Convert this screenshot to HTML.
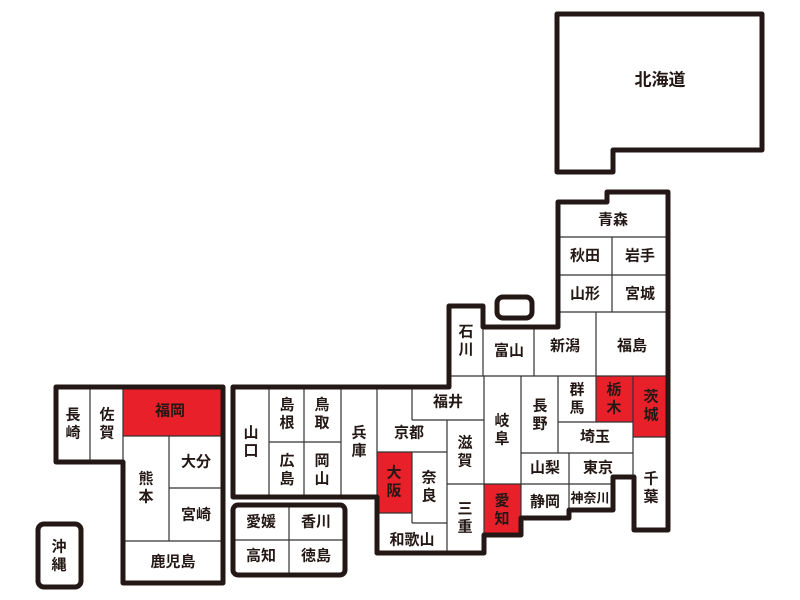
<!DOCTYPE html>
<html><head><meta charset="utf-8"><style>
html,body{margin:0;padding:0;background:#fff;}
svg{display:block;}
text{font-family:"Liberation Sans","Noto Sans CJK JP",sans-serif;font-weight:bold;font-size:15px;fill:#231815;text-anchor:middle;dominant-baseline:central;}
</style></head><body>
<svg width="800" height="600" viewBox="0 0 800 600" xmlns="http://www.w3.org/2000/svg">
<g fill="#fff" stroke="none">
<path d="M557,14 L762,14 L762,150 L613,150 L613,172 L557,172 Z"/>
<path d="M233,387 L449,387 L449,306 L483,306 L483,327 L558,327 L558,202 L607,202 L607,192 L668,192 L668,530 L634,530 L634,477 L613,477 L613,510 L569,510 L569,518 L521,518 L521,535 L484,535 L484,553 L377,553 L377,497 L233,497 Z"/>
</g>
<g fill="#e8202a">
<rect x="123" y="387" width="100" height="49"/>
<rect x="377" y="452" width="35" height="61"/>
<rect x="484" y="484" width="37" height="51"/>
<rect x="596" y="376" width="37" height="46"/>
<rect x="633" y="376" width="35" height="61"/>
</g>
<g stroke="#333" stroke-width="1.2" fill="none">
<path d="M558,237H668 M612,237V312 M558,275H668 M558,312H668 M596,312V376 M449,376H668 M483,327V376 M534,327V376"/>
<path d="M269,387V497 M304,387V497 M341,387V497 M377,387V497 M269,442H341"/>
<path d="M412,387V420 M412,420H484 M377,452H447 M447,420V553 M412,452V523 M377,513H412 M412,523H447 M447,484H484 M484,376V535 M521,376V518"/>
<path d="M521,453H633 M558,376V453 M596,376V422 M558,422H633 M633,376V477 M633,437H668 M569,453V510 M484,484H613"/>
<path d="M90,387V462 M123,387V462 M123,436H223 M169,436V541 M169,488H223 M123,541H223"/>
<path d="M289,505V575 M233,540H345"/>
</g>
<g stroke="#231815" stroke-width="5" fill="none" stroke-linejoin="round">
<path d="M557,14 L762,14 L762,150 L613,150 L613,172 L557,172 Z"/>
<path d="M233,387 L449,387 L449,306 L483,306 L483,327 L558,327 L558,202 L607,202 L607,192 L668,192 L668,530 L634,530 L634,477 L613,477 L613,510 L569,510 L569,518 L521,518 L521,535 L484,535 L484,553 L377,553 L377,497 L233,497 Z"/>
<rect x="497" y="297" width="35" height="21" rx="6"/>
<path d="M56,387 L223,387 L223,583 L123,583 L123,462 L56,462 Z"/>
<rect x="233" y="505" width="112" height="70" rx="5"/>
<rect x="38" y="524" width="43" height="63" rx="6"/>
</g>
<text x="660" y="80" style="font-size:17px">北海道</text>
<text x="613" y="220">青森</text>
<text x="585" y="256">秋田</text>
<text x="640" y="256">岩手</text>
<text x="585" y="294">山形</text>
<text x="640" y="294">宮城</text>
<text x="565" y="346">新潟</text>
<text x="632" y="346">福島</text>
<text x="509" y="351">富山</text>
<text x="448" y="402">福井</text>
<text x="595" y="437">埼玉</text>
<text x="545" y="468">山梨</text>
<text x="598" y="468">東京</text>
<text x="545" y="502">静岡</text>
<text x="590" y="498" style="font-size:13px">神奈川</text>
<text x="409" y="433">京都</text>
<text x="412" y="540">和歌山</text>
<text x="261" y="522">愛媛</text>
<text x="316" y="522">香川</text>
<text x="261" y="556">高知</text>
<text x="316" y="556">徳島</text>
<text x="170" y="411">福岡</text>
<text x="196" y="462">大分</text>
<text x="196" y="515">宮崎</text>
<text x="173" y="562">鹿児島</text>
<g>
<text x="466" y="332">石</text><text x="466" y="350">川</text>
<text x="502" y="421">岐</text><text x="502" y="439">阜</text>
<text x="540" y="406">長</text><text x="540" y="424">野</text>
<text x="577" y="390">群</text><text x="577" y="408">馬</text>
<text x="614" y="390">栃</text><text x="614" y="408">木</text>
<text x="651" y="397">茨</text><text x="651" y="415">城</text>
<text x="651" y="479">千</text><text x="651" y="497">葉</text>
<text x="502" y="501">愛</text><text x="502" y="519">知</text>
<text x="465" y="443">滋</text><text x="465" y="461">賀</text>
<text x="465" y="509">三</text><text x="465" y="527">重</text>
<text x="394" y="473">大</text><text x="394" y="491">阪</text>
<text x="429" y="478">奈</text><text x="429" y="496">良</text>
<text x="359" y="433">兵</text><text x="359" y="451">庫</text>
<text x="322" y="405">鳥</text><text x="322" y="423">取</text>
<text x="322" y="461">岡</text><text x="322" y="479">山</text>
<text x="287" y="405">島</text><text x="287" y="423">根</text>
<text x="287" y="461">広</text><text x="287" y="479">島</text>
<text x="251" y="433">山</text><text x="251" y="451">口</text>
<text x="73" y="415">長</text><text x="73" y="433">崎</text>
<text x="107" y="415">佐</text><text x="107" y="433">賀</text>
<text x="146" y="479">熊</text><text x="146" y="497">本</text>
<text x="59" y="547">沖</text><text x="59" y="565">縄</text>
</g>
</svg>
</body></html>
